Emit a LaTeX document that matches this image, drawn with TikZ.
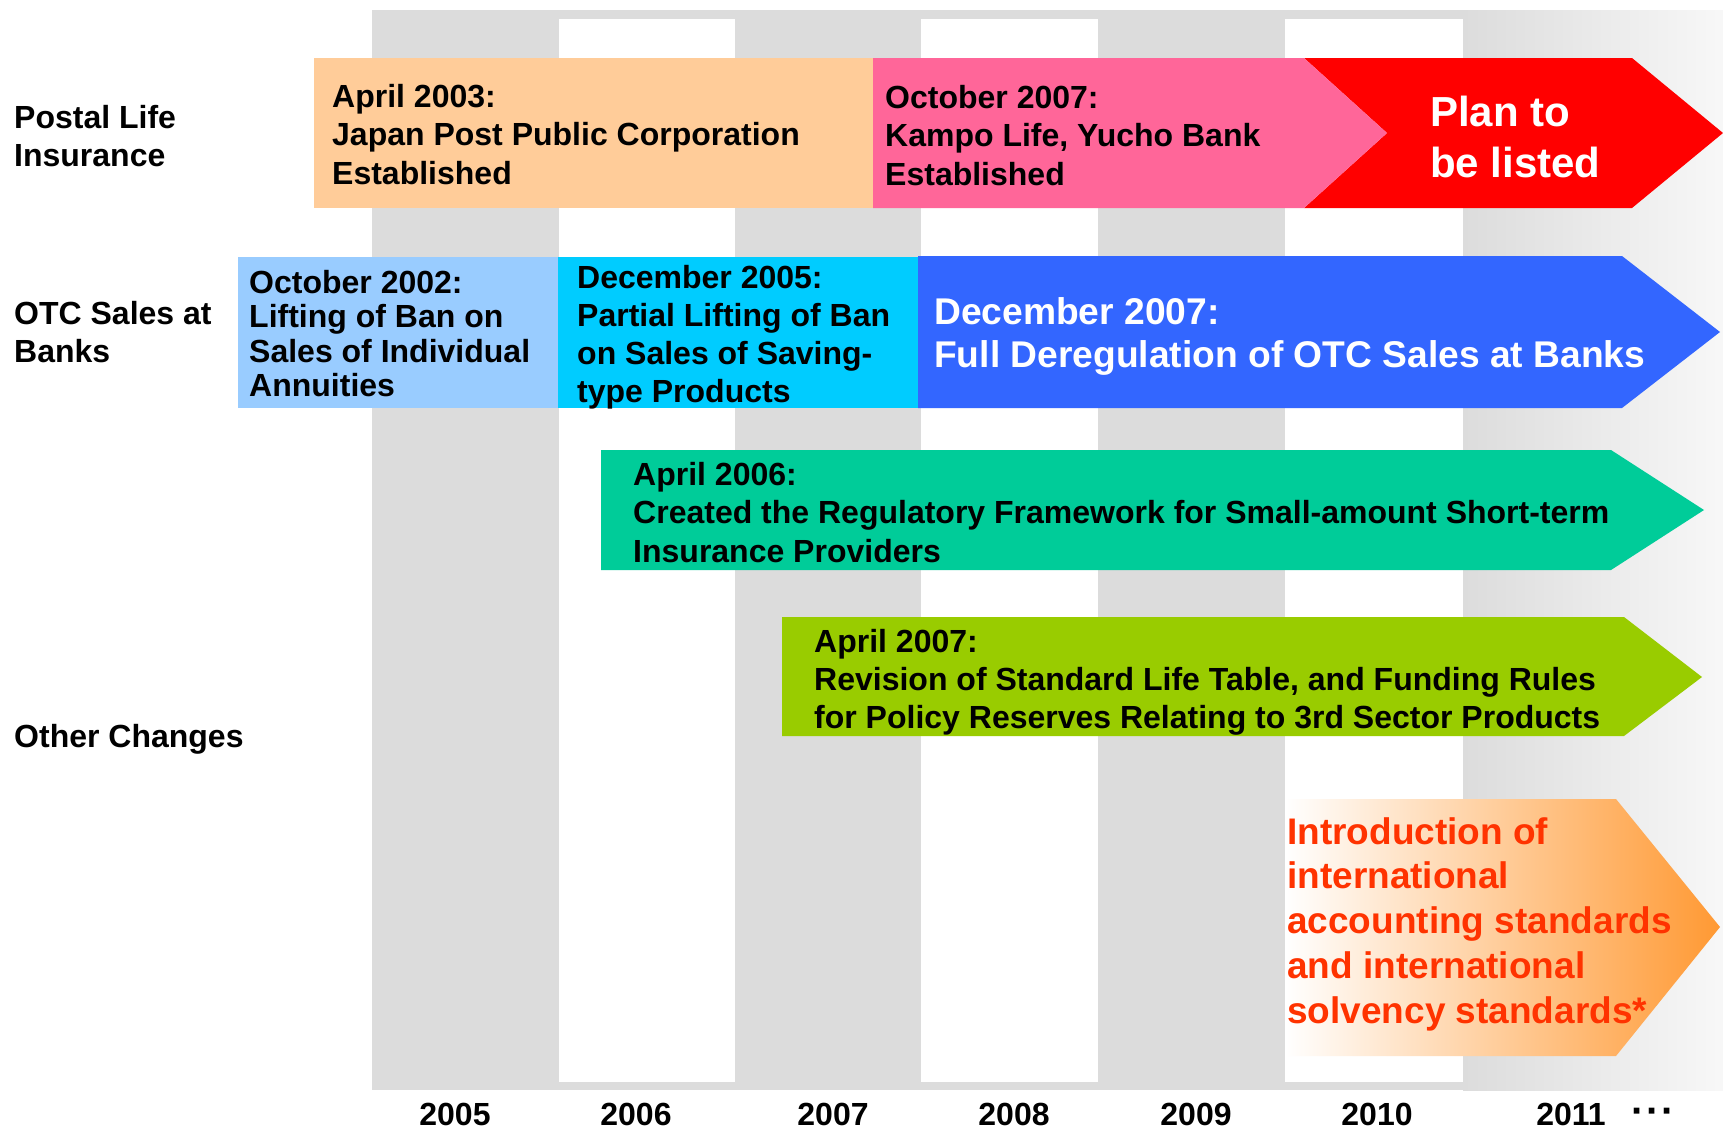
\documentclass[tikz,border=0pt]{standalone}
\usepackage{fontspec}
\setmainfont{Liberation Sans}

\definecolor{colgrey}{HTML}{DCDCDC}
\definecolor{peach}{HTML}{FFCC99}
\definecolor{rosepink}{HTML}{FF6699}
\definecolor{listred}{HTML}{FF0000}
\definecolor{paleblue}{HTML}{99CCFF}
\definecolor{skycyan}{HTML}{00CCFF}
\definecolor{royalblue}{HTML}{3366FF}
\definecolor{seagreen}{HTML}{00CC99}
\definecolor{limegreen}{HTML}{99CC00}
\definecolor{ifrsorange}{HTML}{FF9933}
\definecolor{ifrstext}{HTML}{FF3300}

\tikzset{
  txt/.style={anchor=north west, align=left, inner sep=0pt, font=\bfseries\fontsize{32}{38.5}\selectfont},
  rowlabel/.style={txt},
  year/.style={anchor=north, inner sep=0pt, font=\bfseries\fontsize{32}{38.5}\selectfont},
}

\begin{document}
\begin{tikzpicture}[x=1pt,y=-1pt]
\useasboundingbox (0,0) rectangle (1723,1130);

% year columns
\fill[colgrey] (372,10) rectangle (1463,1090);
\foreach \a/\b in {559/735, 921/1098, 1285/1463}
  \fill[white] (\a,19) rectangle (\b,1082);
\shade[left color=colgrey, right color=white!97!black] (1463,10) rectangle (1723,1090);

% Postal Life Insurance
\fill[peach] (314,58) rectangle (874,208);
\fill[listred] (1304,58) -- (1632,58) -- (1723,133) -- (1632,208) -- (1304,208) -- (1387,133) -- cycle;
\fill[rosepink] (873,58) -- (1304,58) -- (1387,133) -- (1304,208) -- (873,208) -- cycle;

% OTC Sales at Banks
\fill[paleblue] (238,257) rectangle (558,408);
\fill[skycyan] (558,257) rectangle (918,408);
\fill[royalblue] (918,256) -- (1622,256) -- (1720,332) -- (1622,408) -- (918,408) -- cycle;

% Other Changes
\fill[seagreen] (601,450) -- (1611,450) -- (1704,510) -- (1611,570) -- (601,570) -- cycle;
\fill[limegreen] (782,617) -- (1624,617) -- (1702,677) -- (1624,736) -- (782,736) -- cycle;
\shade[left color=white, middle color=ifrsorange!40, right color=ifrsorange]
  (1285,799) -- (1616,799) -- (1720,927) -- (1616,1056) -- (1285,1056) -- cycle;

% row labels
\node[rowlabel] (lpostal) at (14,105) {Postal Life\\Insurance};
\node[rowlabel] (lotc) at (14,301) {OTC Sales at\\Banks};
\node[rowlabel] (lother) at (14,724) {Other Changes};

% events
\node[txt] (e2003) at (332,84) {April 2003:\\Japan Post Public Corporation\\Established};
\node[txt] (e2007a) at (885,85) {October 2007:\\Kampo Life, Yucho Bank\\Established};
\node[txt, text=white, font=\bfseries\fontsize{42}{50.5}\selectfont] (plan) at (1430,96) {Plan to\\be listed};

\node[txt, font=\bfseries\fontsize{32}{34.5}\selectfont] (e2002) at (249,270) {October 2002:\\Lifting of Ban on\\Sales of Individual\\Annuities};
\node[txt, font=\bfseries\fontsize{32}{38}\selectfont] (e2005) at (577,265) {December 2005:\\Partial Lifting of Ban\\on Sales of Saving-\\type Products};
\node[txt, text=white, font=\bfseries\fontsize{37.2}{43}\selectfont] (e2007b) at (934,297) {December 2007:\\Full Deregulation of OTC Sales at Banks};

\node[txt] (e2006) at (633,462) {April 2006:\\Created the Regulatory Framework for Small-amount Short-term\\Insurance Providers};
\node[txt, font=\bfseries\fontsize{32}{38}\selectfont] (e2007c) at (814,629) {April 2007:\\Revision of Standard Life Table, and Funding Rules\\for Policy Reserves Relating to 3rd Sector Products};
\node[txt, text=ifrstext, font=\bfseries\fontsize{37}{44.8}\selectfont] (ifrs) at (1287,817)
  {Introduction of\\international\\accounting standards\\and international\\solvency standards*};

% year axis
\foreach \yr/\x in {2005/455, 2006/636, 2007/833, 2008/1014, 2009/1196, 2010/1377, 2011/1571}
  \node[year] (y\yr) at (\x,1103) {\yr};
\node[year, font=\bfseries\fontsize{40}{40}\selectfont] (ymore) at (1653,1108) {·\kern1.5pt·\kern1.5pt·};
\end{tikzpicture}
\end{document}
